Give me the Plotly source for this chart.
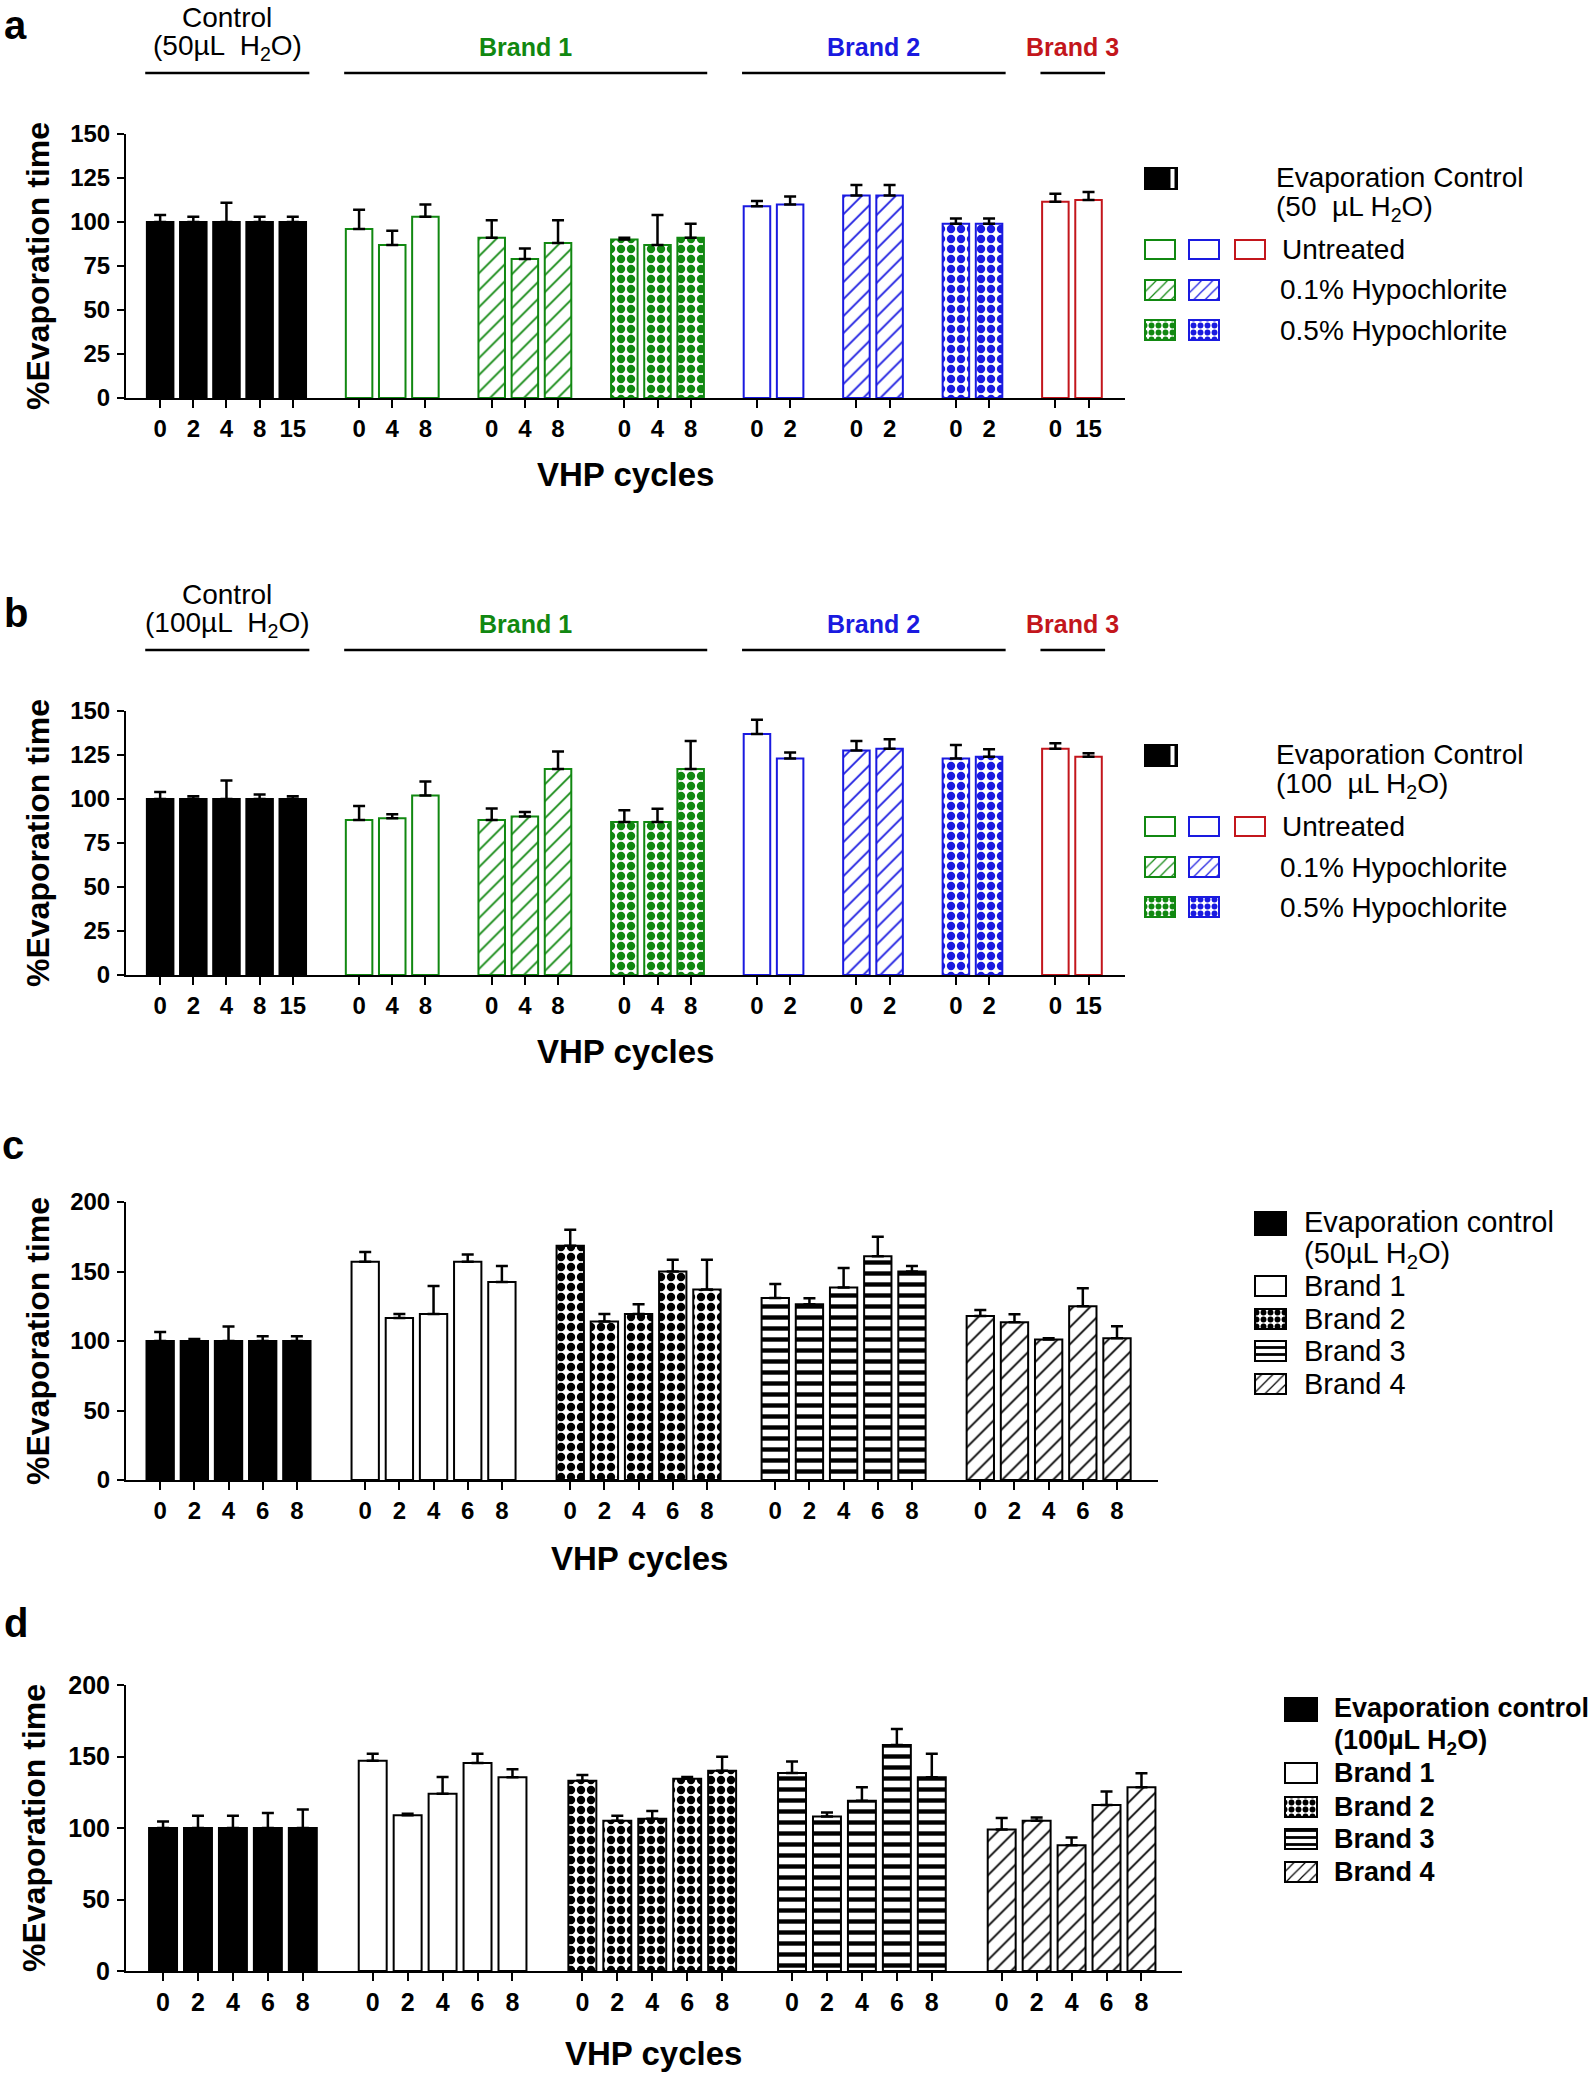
import plotly.graph_objects as go

FIG_W, FIG_H = 1595, 2075
GREEN, BLUE, RED, BLACK = "#118811", "#1a1ae0", "#c3161c", "black"
SANS = "Liberation Sans, Arial, sans-serif"

# ================= DATA =================
# ---- Panel a : 50 uL H2O ----
A_CTRL_CYCLES = ["0", "2", "4", "8", "15"]
A_CTRL_VALUES = [100, 100, 100, 100, 100]
A_CTRL_ERR = [4, 3, 11, 3, 3]
A_B1_CYCLES = ["0", "4", "8"]
A_B1_UNTREATED = [96, 87, 103]
A_B1_UNTREATED_ERR = [11, 8, 7]
A_B1_HYPO01 = [91, 79, 88]
A_B1_HYPO01_ERR = [10, 6, 13]
A_B1_HYPO05 = [90, 87, 91]
A_B1_HYPO05_ERR = [1, 17, 8]
A_B2_CYCLES = ["0", "2"]
A_B2_UNTREATED = [109, 110]
A_B2_UNTREATED_ERR = [3, 4.5]
A_B2_HYPO01 = [115, 115]
A_B2_HYPO01_ERR = [6, 6]
A_B2_HYPO05 = [99, 99]
A_B2_HYPO05_ERR = [3, 3]
A_B3_CYCLES = ["0", "15"]
A_B3_UNTREATED = [111.5, 112.5]
A_B3_UNTREATED_ERR = [4.5, 4.5]

# ---- Panel b : 100 uL H2O ----
B_CTRL_CYCLES = ["0", "2", "4", "8", "15"]
B_CTRL_VALUES = [100, 100, 100, 100, 100]
B_CTRL_ERR = [4, 1.5, 10.5, 2.6, 1.5]
B_B1_CYCLES = ["0", "4", "8"]
B_B1_UNTREATED = [88, 89, 102]
B_B1_UNTREATED_ERR = [8, 2.3, 8]
B_B1_HYPO01 = [88, 90, 117]
B_B1_HYPO01_ERR = [6.6, 2.6, 10]
B_B1_HYPO05 = [87, 87, 117]
B_B1_HYPO05_ERR = [6.6, 7.5, 16]
B_B2_CYCLES = ["0", "2"]
B_B2_UNTREATED = [137, 123]
B_B2_UNTREATED_ERR = [8, 3.4]
B_B2_HYPO01 = [127.5, 128.5]
B_B2_HYPO01_ERR = [5.5, 5.5]
B_B2_HYPO05 = [123, 124]
B_B2_HYPO05_ERR = [7.7, 4.3]
B_B3_CYCLES = ["0", "15"]
B_B3_UNTREATED = [128.5, 124]
B_B3_UNTREATED_ERR = [3.2, 2]

# ---- Panel c : 50 uL H2O, four brands ----
C_CYCLES = ["0", "2", "4", "6", "8"]
C_CTRL = [100, 100, 100, 100, 100]
C_CTRL_ERR = [6.5, 1.5, 10.5, 3.5, 3.5]
C_BRAND1 = [157, 116.5, 119.5, 157, 142.5]
C_BRAND1_ERR = [7, 3, 20, 5.3, 11.5]
C_BRAND2 = [168.5, 114, 119.5, 150, 137]
C_BRAND2_ERR = [11.5, 5.5, 7, 8.4, 21.5]
C_BRAND3 = [131, 126.5, 138.5, 161, 150]
C_BRAND3_ERR = [10, 4.3, 14, 14, 4]
C_BRAND4 = [118, 113.5, 101, 125, 102]
C_BRAND4_ERR = [4.3, 5.7, 1, 13, 8.6]

# ---- Panel d : 100 uL H2O, four brands ----
D_CYCLES = ["0", "2", "4", "6", "8"]
D_CTRL = [100, 100, 100, 100, 100]
D_CTRL_ERR = [4.5, 8.5, 8.5, 10.5, 13]
D_BRAND1 = [147, 109, 124, 145.5, 135.5]
D_BRAND1_ERR = [5, 1, 11.6, 6.5, 5.6]
D_BRAND2 = [133, 105, 106.5, 134.5, 140]
D_BRAND2_ERR = [4, 3.5, 5.4, 1.2, 9.8]
D_BRAND3 = [138.5, 108, 119, 158, 135.5]
D_BRAND3_ERR = [8, 2.8, 9.5, 11.2, 16.5]
D_BRAND4 = [99, 105, 88, 116, 128.5]
D_BRAND4_ERR = [8, 2.3, 5.4, 9.5, 9.8]

Y_TICKS_AB = [0, 25, 50, 75, 100, 125, 150]
Y_TICKS_CD = [0, 50, 100, 150, 200]

A_GROUPS = [
    (A_CTRL_CYCLES, A_CTRL_VALUES, A_CTRL_ERR, "solid", BLACK),
    (A_B1_CYCLES, A_B1_UNTREATED, A_B1_UNTREATED_ERR, "open", GREEN),
    (A_B1_CYCLES, A_B1_HYPO01, A_B1_HYPO01_ERR, "hatch", GREEN),
    (A_B1_CYCLES, A_B1_HYPO05, A_B1_HYPO05_ERR, "checker", GREEN),
    (A_B2_CYCLES, A_B2_UNTREATED, A_B2_UNTREATED_ERR, "open", BLUE),
    (A_B2_CYCLES, A_B2_HYPO01, A_B2_HYPO01_ERR, "hatch", BLUE),
    (A_B2_CYCLES, A_B2_HYPO05, A_B2_HYPO05_ERR, "checker", BLUE),
    (A_B3_CYCLES, A_B3_UNTREATED, A_B3_UNTREATED_ERR, "open", RED),
]
B_GROUPS = [
    (B_CTRL_CYCLES, B_CTRL_VALUES, B_CTRL_ERR, "solid", BLACK),
    (B_B1_CYCLES, B_B1_UNTREATED, B_B1_UNTREATED_ERR, "open", GREEN),
    (B_B1_CYCLES, B_B1_HYPO01, B_B1_HYPO01_ERR, "hatch", GREEN),
    (B_B1_CYCLES, B_B1_HYPO05, B_B1_HYPO05_ERR, "checker", GREEN),
    (B_B2_CYCLES, B_B2_UNTREATED, B_B2_UNTREATED_ERR, "open", BLUE),
    (B_B2_CYCLES, B_B2_HYPO01, B_B2_HYPO01_ERR, "hatch", BLUE),
    (B_B2_CYCLES, B_B2_HYPO05, B_B2_HYPO05_ERR, "checker", BLUE),
    (B_B3_CYCLES, B_B3_UNTREATED, B_B3_UNTREATED_ERR, "open", RED),
]
C_GROUPS = [
    (C_CYCLES, C_CTRL, C_CTRL_ERR, "solid", BLACK),
    (C_CYCLES, C_BRAND1, C_BRAND1_ERR, "open", BLACK),
    (C_CYCLES, C_BRAND2, C_BRAND2_ERR, "checker", BLACK),
    (C_CYCLES, C_BRAND3, C_BRAND3_ERR, "stripe", BLACK),
    (C_CYCLES, C_BRAND4, C_BRAND4_ERR, "hatch", BLACK),
]
D_GROUPS = [
    (D_CYCLES, D_CTRL, D_CTRL_ERR, "solid", BLACK),
    (D_CYCLES, D_BRAND1, D_BRAND1_ERR, "open", BLACK),
    (D_CYCLES, D_BRAND2, D_BRAND2_ERR, "checker", BLACK),
    (D_CYCLES, D_BRAND3, D_BRAND3_ERR, "stripe", BLACK),
    (D_CYCLES, D_BRAND4, D_BRAND4_ERR, "hatch", BLACK),
]


# ================= HELPERS =================
def px(x):
    return x / FIG_W


def py(y):
    return 1 - y / FIG_H


def marker_for(style, color, small=False):
    if style == "solid":
        return dict(color=color, line=dict(color=color, width=2))
    m = dict(color="white", line=dict(color=color, width=2))
    if style == "hatch":
        m["pattern"] = dict(shape="/", fgcolor=color, bgcolor="white", fillmode="replace",
                            size=8 if small else 12, solidity=0.15)
    elif style == "checker":
        m["pattern"] = dict(shape=".", fgcolor=color, bgcolor="white", fillmode="replace",
                            size=7 if small else 10, solidity=0.55)
    elif style == "stripe":
        m["pattern"] = dict(shape="-", fgcolor=color, bgcolor="white", fillmode="replace",
                            size=7 if small else 11, solidity=0.4)
    return m


def group_slots(groups):
    out, s = [], 0
    for g in groups:
        n = len(g[0])
        out.append([s + i for i in range(n)])
        s += n + 1
    return out


fig = go.Figure()
annotations, shapes = [], []


def add_panel(idx, groups, xdom, ydom, xrange, yrange, yticks, tsize):
    xa = "x" if idx == 1 else f"x{idx}"
    ya = "y" if idx == 1 else f"y{idx}"
    slots = group_slots(groups)
    tickvals, ticktext = [], []
    for (cyc, vals, errs, style, color), pos in zip(groups, slots):
        fig.add_trace(go.Bar(
            x=pos, y=vals, width=0.8, xaxis=xa, yaxis=ya,
            marker=marker_for(style, color),
            error_y=dict(type="data", array=errs, arrayminus=[0] * len(errs),
                         symmetric=False, color="black", thickness=2.5, width=6),
            showlegend=False, hoverinfo="skip"))
        tickvals += pos
        ticktext += cyc
    fmt = "<b>%s</b>"
    axkey = "xaxis" if idx == 1 else f"xaxis{idx}"
    aykey = "yaxis" if idx == 1 else f"yaxis{idx}"
    common = dict(showline=True, linecolor="black", linewidth=2, ticks="outside",
                  tickcolor="black", tickwidth=2, showgrid=False, zeroline=False,
                  automargin=False,
                  tickfont=dict(family=SANS, size=tsize, color="black"))
    fig.layout[axkey] = dict(domain=xdom, range=xrange, anchor=ya, tickvals=tickvals,
                             ticktext=[fmt % t for t in ticktext], ticklen=8,
                             ticklabelstandoff=0, **common)
    fig.layout[aykey] = dict(domain=ydom, range=yrange, anchor=xa, tickvals=yticks,
                             ticktext=[fmt % v for v in yticks], ticklen=7,
                             ticklabelstandoff=2, **common)
    return slots


def text(x, y, s, size, color="black", xanchor="center", xref="paper", angle=0,
         yanchor="middle"):
    annotations.append(dict(x=x, y=y, xref=xref, yref="paper", text=s,
                            showarrow=False, textangle=angle, xanchor=xanchor,
                            yanchor=yanchor,
                            font=dict(size=size, color=color, family=SANS)))


# ================= PANELS =================
slots_a = add_panel(1, A_GROUPS, [px(126), px(1125)], [py(398), py(134)],
                    [-1.03, 29.1], [0, 150], Y_TICKS_AB, 24)
slots_b = add_panel(2, B_GROUPS, [px(126), px(1125)], [py(975), py(711)],
                    [-1.03, 29.1], [0, 150], Y_TICKS_AB, 24)
slots_c = add_panel(3, C_GROUPS, [px(126), px(1158)], [py(1480), py(1202)],
                    [-1.0, 29.2], [0, 200], Y_TICKS_CD, 24)
slots_d = add_panel(4, D_GROUPS, [px(126), px(1182)], [py(1971), py(1685)],
                    [-1.06, 29.16], [0, 200], Y_TICKS_CD, 25)


# ---- brackets above panels a and b ----
def brackets(xref, slots, dy, ctrl_label):
    spec = [([0], None, BLACK), ([1, 2, 3], "Brand 1", GREEN),
            ([4, 5, 6], "Brand 2", BLUE), ([7], "Brand 3", RED)]
    for gids, label, color in spec:
        x0 = slots[gids[0]][0] - 0.45
        x1 = slots[gids[-1]][-1] + 0.5
        shapes.append(dict(type="line", xref=xref, yref="paper", x0=x0, x1=x1,
                           y0=py(73 + dy), y1=py(73 + dy),
                           line=dict(color="black", width=2.5)))
        xc = (x0 + x1) / 2
        if label is None:
            text(xc, py(18 + dy), "Control", 28, xref=xref)
            text(xc, py(47 + dy), ctrl_label, 28, xref=xref)
        else:
            text(xc, py(47 + dy), "<b>%s</b>" % label, 25, color=color, xref=xref)


brackets("x", slots_a, 0, "(50µL  H<sub>2</sub>O)")
brackets("x2", slots_b, 577, "(100µL  H<sub>2</sub>O)")

# ---- panel letters, axis titles ----
text(px(15), py(1), "<b>a</b>", 40, yanchor="top")
for letter, (lx, ly) in zip("bcd", [(16, 613), (13, 1145), (16, 1623)]):
    text(px(lx), py(ly), "<b>%s</b>" % letter, 40)

for (tx, ty) in [(625, 474), (625, 1051), (639, 1558), (653, 2053)]:
    text(px(tx), py(ty), "<b>VHP cycles</b>", 33)

for (tx, ty) in [(38, 266), (38, 843), (38, 1341), (34, 1828)]:
    text(px(tx), py(ty), "<b>%Evaporation time</b>", 32, angle=-90)


# ================= LEGENDS (bars on a pixel-unit axis) =================
def swatch(x0, x1, y0, y1, style, color):
    fig.add_trace(go.Bar(x=[(x0 + x1) / 2], y=[y1 - y0], base=[y0], width=[x1 - x0],
                         xaxis="x5", yaxis="y5", marker=marker_for(style, color, True),
                         showlegend=False, hoverinfo="skip"))


for dy, vol in [(0, "50"), (577, "100")]:
    swatch(1145, 1177, 168 + dy, 189 + dy, "solid", BLACK)
    swatch(1171.5, 1173.5, 170 + dy, 187 + dy, "solid", "white")
    for (x0, x1), col in zip([(1145, 1175), (1189, 1219), (1235, 1265)], [GREEN, BLUE, RED]):
        swatch(x0, x1, 240 + dy, 259 + dy, "open", col)
    for (x0, x1), col in zip([(1145, 1175), (1189, 1219)], [GREEN, BLUE]):
        swatch(x0, x1, 280 + dy, 300 + dy, "hatch", col)
        swatch(x0, x1, 320 + dy, 340 + dy, "checker", col)
    text(px(1274), py(177 + dy), "Evaporation Control", 28, xanchor="left")
    text(px(1274), py(208 + dy), "(%s  µL H<sub>2</sub>O)" % vol, 28, xanchor="left")
    text(px(1280), py(250 + dy), "Untreated", 28, xanchor="left")
    text(px(1278), py(290 + dy), "0.1% Hypochlorite", 28, xanchor="left")
    text(px(1278), py(330 + dy), "0.5% Hypochlorite", 28, xanchor="left")

LEGEND_LABELS = ["Brand 1", "Brand 2", "Brand 3", "Brand 4"]
LEGEND_STYLES = ["open", "checker", "stripe", "hatch"]

# panel c legend
swatch(1255, 1286, 1212, 1235, "solid", BLACK)
text(px(1302), py(1222), "Evaporation control", 29, xanchor="left")
text(px(1302), py(1255), "(50µL H<sub>2</sub>O)", 29, xanchor="left")
for lab, st, yc in zip(LEGEND_LABELS, LEGEND_STYLES, [1286, 1319, 1351, 1384]):
    swatch(1255, 1286, yc - 10, yc + 10, st, BLACK)
    text(px(1302), py(yc), lab, 29, xanchor="left")

# panel d legend
swatch(1285, 1317, 1698, 1721, "solid", BLACK)
text(px(1332), py(1708), "<b>Evaporation control</b>", 27, xanchor="left")
text(px(1332), py(1742), "<b>(100µL H<sub>2</sub>O)</b>", 27, xanchor="left")
for lab, st, yc in zip(LEGEND_LABELS, LEGEND_STYLES, [1773, 1807, 1839, 1872]):
    swatch(1285, 1317, yc - 10, yc + 10, st, BLACK)
    text(px(1332), py(yc), "<b>%s</b>" % lab, 27, xanchor="left")

fig.layout.xaxis5 = dict(domain=[0, 1], range=[0, FIG_W], visible=False, anchor="y5",
                         automargin=False)
fig.layout.yaxis5 = dict(domain=[0, 1], range=[FIG_H, 0], visible=False, anchor="x5",
                         automargin=False)

fig.update_layout(
    template="none",
    width=FIG_W, height=FIG_H,
    margin=dict(l=0, r=0, t=0, b=0, pad=0, autoexpand=False),
    paper_bgcolor="white", plot_bgcolor="rgba(0,0,0,0)",
    barmode="overlay", showlegend=False,
    annotations=annotations, shapes=shapes,
    font=dict(family=SANS, color="black"),
)

PIN_JS = (
    "document.documentElement.style.margin='0';"
    "document.body.style.margin='0';document.body.style.padding='0';"
    "document.documentElement.style.overflow='hidden';"
    "var gd=document.getElementsByClassName('plotly-graph-div')[0];"
    "if(gd){gd.style.position='fixed';gd.style.left='0px';gd.style.top='0px';}"
)

fig.write_html("out.html", config={"displayModeBar": False, "staticPlot": True},
               post_script=PIN_JS)
